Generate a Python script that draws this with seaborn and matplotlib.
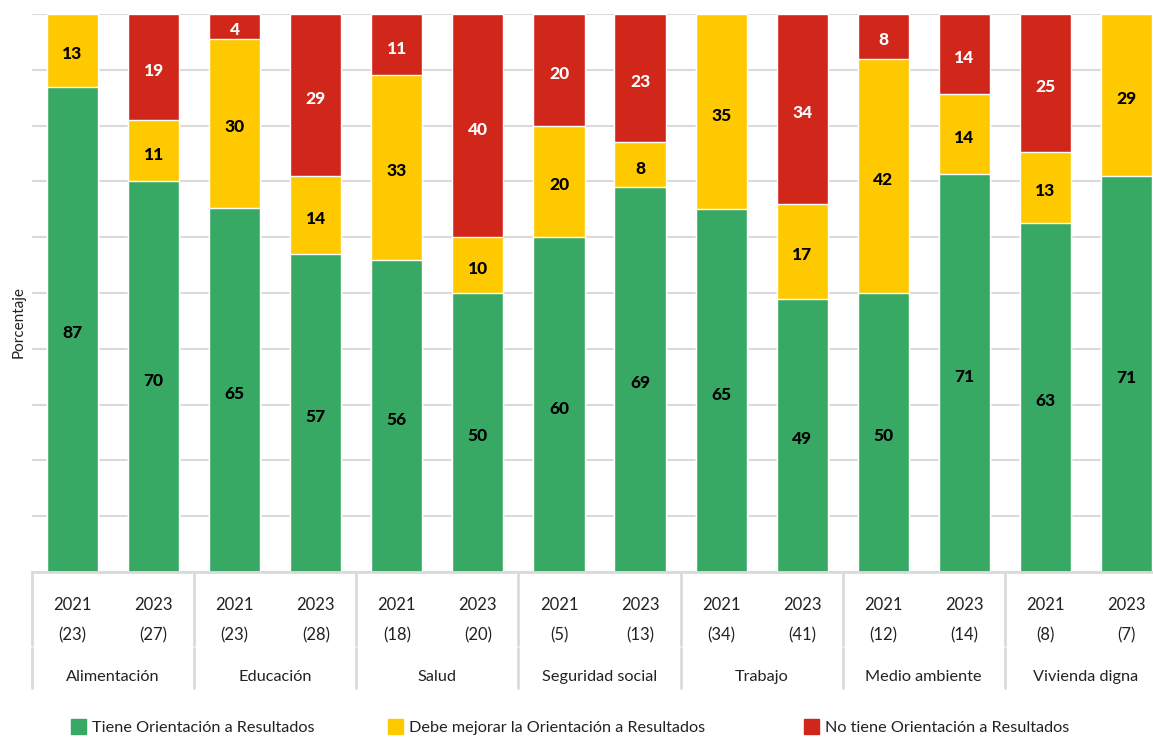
import matplotlib.pyplot as plt
import seaborn as sns
import pandas as pd
from matplotlib.patches import Patch

# datos: porcentaje de programas por derecho social y año
temas = ["Alimentación", "Educación", "Salud", "Seguridad social",
         "Trabajo", "Medio ambiente", "Vivienda digna"]
anios = ["2021", "2023"] * 7
programas = [23, 27, 23, 28, 18, 20, 5, 13, 34, 41, 12, 14, 8, 7]
tiene = [87, 70, 65.2, 57, 56, 50, 60, 69, 65, 49, 50, 71.4, 62.6, 71]
debe = [13, 11, 30.4, 14, 33, 10, 20, 8, 35, 17, 42, 14.3, 12.6, 29]
no_tiene = [0, 19, 4.4, 29, 11, 40, 20, 23, 0, 34, 8, 14.3, 24.8, 0]
series = ["Tiene Orientación a Resultados",
          "Debe mejorar la Orientación a Resultados",
          "No tiene Orientación a Resultados"]

verde, amarillo, rojo = "#37A965", "#FFC900", "#D1261A"
gris = "#DADADA"
texto = "#222222"

sns.set_style("white")
plt.rcParams["font.family"] = ["Lato", "DejaVu Sans"]

df = pd.DataFrame({
    "clave": [f"{temas[i // 2]} {anios[i]}" for i in range(14)],
    "tiene": tiene, "debe": debe, "no_tiene": no_tiene,
})
df["hasta_debe"] = df["tiene"] + df["debe"]
df["total"] = df["hasta_debe"] + df["no_tiene"]

fig = plt.figure(figsize=(11.53, 7.38), dpi=100)
ax = fig.add_axes([32 / 1153, 166 / 738, 1135 / 1153, 558 / 738])

# barras apiladas: se dibuja el total y encima los acumulados menores
for col, color in [("total", rojo), ("hasta_debe", amarillo), ("tiene", verde)]:
    sns.barplot(data=df, x="clave", y=col, color=color, saturation=1,
                width=0.63, errorbar=None, ax=ax, zorder=2)

ax.set_ylim(0, 100)
ax.set_xlim(-0.5, 13.5)
ax.set_yticks(range(0, 101, 10))
ax.yaxis.grid(True, color=gris, linewidth=1.5, zorder=0)
ax.set_axisbelow(True)
ax.tick_params(axis="y", length=0, labelleft=False)
ax.set_xticks([])
ax.set_xlabel("")
ax.set_ylabel("")
for s in ["top", "right", "left"]:
    ax.spines[s].set_visible(False)
ax.spines["bottom"].set_color(gris)
ax.spines["bottom"].set_linewidth(2)

# etiquetas de valores
for i in range(14):
    base = 0
    for vals, c in [(tiene, "black"), (debe, "black"), (no_tiene, "white")]:
        v = vals[i]
        if v > 0:
            ax.text(i, base + v / 2 - 0.7, f"{round(v)}", ha="center",
                    va="center", fontsize=12.5, fontweight="black", color=c,
                    zorder=3)
        base += v

# tabla de categorías bajo el eje
tr = ax.get_xaxis_transform()
for i in range(14):
    ax.text(i, -0.059, anios[i], transform=tr, ha="center", va="center",
            fontsize=12, color=texto)
    ax.text(i, -0.113, f"({programas[i]})", transform=tr, ha="center",
            va="center", fontsize=12, color=texto)
for g, tema in enumerate(temas):
    ax.text(2 * g + 0.5, -0.188, tema, transform=tr, ha="center",
            va="center", fontsize=11.7, color=texto)
for g in range(8):
    x = 2 * g - 0.5
    ax.plot([x, x], [0, -0.131], transform=tr, color=gris, lw=2, clip_on=False)
    ax.plot([x, x], [-0.137, -0.208], transform=tr, color=gris, lw=2, clip_on=False)

fig.text(19 / 1153, 1 - 322 / 738, "Porcentaje", rotation=90, ha="center",
         va="center", fontsize=11, color=texto)

# leyenda: tres entradas separadas como en el original
for color, label, x0 in zip([verde, amarillo, rojo], series, [71, 388, 804]):
    fig.legend(handles=[Patch(color=color, label=label)], loc="center left",
               bbox_to_anchor=(x0 / 1153, 1 - 727 / 738), frameon=False,
               fontsize=11.7, handlelength=0.9, handleheight=1.1,
               handletextpad=0.4, borderpad=0, borderaxespad=0,
               labelcolor=texto)

plt.savefig("out.png", dpi=100)
